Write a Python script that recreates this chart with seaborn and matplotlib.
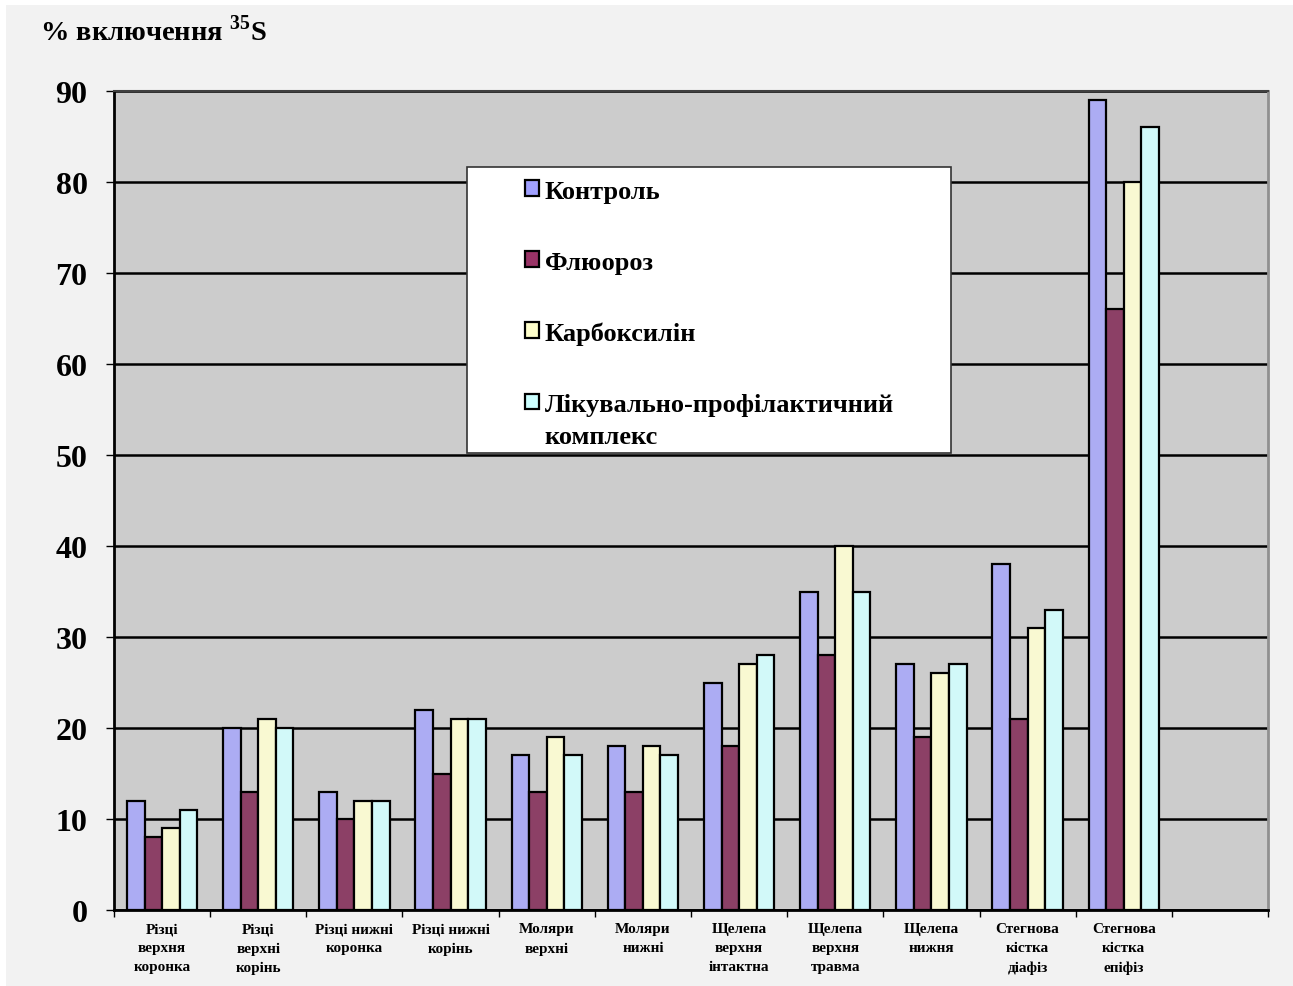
import matplotlib
matplotlib.use("Agg")
import matplotlib.pyplot as plt
import seaborn as sns
import numpy as np
import pandas as pd
from matplotlib.patches import Rectangle, Patch

categories = [
    "Різці\nверхня\nкоронка",
    "Різці\nверхні\nкорінь",
    "Різці нижні\nкоронка",
    "Різці нижні\nкорінь",
    "Моляри\nверхні",
    "Моляри\nнижні",
    "Щелепа\nверхня\nінтактна",
    "Щелепа\nверхня\nтравма",
    "Щелепа\nнижня",
    "Стегнова\nкістка\nдіафіз",
    "Стегнова\nкістка\nепіфіз",
]
series_names = ["Контроль", "Флюороз", "Карбоксилін", "Лікувально-профілактичний\nкомплекс"]
control = [12, 20, 13, 22, 17, 18, 25, 35, 27, 38, 89]
fluorosis = [8, 13, 10, 15, 13, 13, 18, 28, 19, 21, 66]
carboxylin = [9, 21, 12, 21, 19, 18, 27, 40, 26, 31, 80]
complex_ = [11, 20, 12, 21, 17, 17, 28, 35, 27, 33, 86]
colors = ["#A0A0FF", "#993366", "#FFFFCC", "#CCFFFF"]

rows = []
for name, vals in zip(series_names, [control, fluorosis, carboxylin, complex_]):
    for c, v in zip(categories, vals):
        rows.append({"cat": c, "series": name, "val": v})
df = pd.DataFrame(rows)

sns.set_style("white")
plt.rcParams["font.family"] = ["Liberation Serif", "DejaVu Serif"]
plt.rcParams["font.weight"] = "bold"
plt.rcParams["text.color"] = "black"
plt.rcParams["xtick.color"] = "black"
plt.rcParams["ytick.color"] = "black"
plt.rcParams["axes.labelcolor"] = "black"
plt.rcParams["mathtext.fontset"] = "custom"
plt.rcParams["mathtext.rm"] = "Liberation Serif:bold"
plt.rcParams["mathtext.bf"] = "Liberation Serif:bold"

W, H = 1293, 987
fig = plt.figure(figsize=(W / 100, H / 100), dpi=100, facecolor="white")
fig.patches.append(Rectangle((6 / W, 0), 1, 1 - 6 / H, transform=fig.transFigure,
                             facecolor="#F2F2F2", edgecolor="none", zorder=-10))

ax = fig.add_axes([114 / W, 1 - 911 / H, (1268 - 114) / W, (911 - 92) / H])
ax.set_facecolor("#CCCCCC")

sns.barplot(data=df, x="cat", y="val", hue="series", order=categories,
            hue_order=series_names, palette=colors, width=0.73,
            edgecolor="black", linewidth=1.6, ax=ax, legend=False, zorder=3)

ax.set_ylim(0, 90)
ax.set_xlim(-0.5, 11.5)
ax.set_yticks(np.arange(0, 91, 10))
ax.yaxis.grid(True, color="black", linewidth=1.8, zorder=1)
ax.set_axisbelow(True)
ax.tick_params(axis="y", labelsize=23, length=6, width=1, direction="out", left=True, pad=13)
for lab in ax.get_yticklabels():
    lab.set_fontweight("bold")

ax.set_xticks(np.arange(-0.5, 12, 1))
ax.set_xticklabels([])
ax.tick_params(axis="x", which="major", length=5, width=1, direction="out", bottom=True)
ax.set_xticks(np.arange(len(categories)), minor=True)
ax.set_xticklabels(categories, minor=True, fontsize=11, fontweight="bold", linespacing=1.6)
ax.tick_params(axis="x", which="minor", length=0, pad=9)
ax.set_xlabel("")
ax.set_ylabel("")

for s in ["left", "bottom"]:
    ax.spines[s].set_color("black")
    ax.spines[s].set_linewidth(2)
ax.spines["top"].set_color("#404040")
ax.spines["top"].set_linewidth(1.5)
ax.spines["right"].set_color("#909090")
ax.spines["right"].set_linewidth(2)

fig.text(40 / W, 1 - 31 / H, "% включення $^{35}$S", fontsize=20.5, fontweight="bold",
         ha="left", va="center")

# legend
fig.patches.append(Rectangle((467 / W, 1 - 454 / H), (951 - 467) / W, (454 - 168) / H,
                             transform=fig.transFigure, facecolor="white",
                             edgecolor="#333333", linewidth=1.2, zorder=5))
handles = [Patch(facecolor=c, edgecolor="black", linewidth=1.6) for c in colors]
leg = fig.legend(handles, series_names, loc="upper left",
                 bbox_to_anchor=(517 / W, 1 - 173 / H), frameon=False,
                 prop={"family": "Liberation Serif", "weight": "bold", "size": 19},
                 handlelength=0.55, handleheight=0.55, handletextpad=0.2,
                 labelspacing=1.82, borderaxespad=0, borderpad=0.3)
for col in leg._legend_handle_box.get_children():
    for hp in col.get_children():
        hp.align = "top"
for t in leg.get_texts():
    t.set_linespacing(1.5)
leg.set_zorder(6)

fig.savefig("out.png", dpi=100, facecolor=fig.get_facecolor())
